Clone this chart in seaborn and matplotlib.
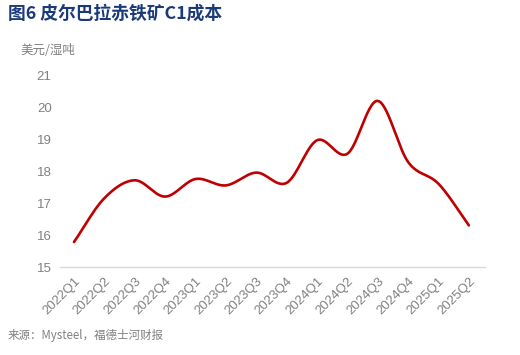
import numpy as np
import pandas as pd
import matplotlib
matplotlib.use("Agg")
import matplotlib.pyplot as plt
import seaborn as sns

quarters = ["2022Q1", "2022Q2", "2022Q3", "2022Q4", "2023Q1", "2023Q2", "2023Q3",
            "2023Q4", "2024Q1", "2024Q2", "2024Q3", "2024Q4", "2025Q1", "2025Q2"]
c1_cost = [15.78, 17.15, 17.71, 17.20, 17.75, 17.55, 17.95,
           17.63, 18.96, 18.54, 20.19, 18.28, 17.60, 16.30]
y_ticks = [15, 16, 17, 18, 19, 20, 21]

title = "图6 皮尔巴拉赤铁矿C1成本"
unit = "美元/湿吨"
source = "来源：Mysteel，福德士河财报"

sns.set_theme(style="white")
plt.rcParams['font.family'] = ['Liberation Sans', 'Noto Sans CJK SC', 'DejaVu Sans']


def catmull_rom(xs, ys, n=30):
    xs = np.asarray(xs, float)
    ys = np.asarray(ys, float)
    px = np.concatenate([[2 * xs[0] - xs[1]], xs, [2 * xs[-1] - xs[-2]]])
    py = np.concatenate([[2 * ys[0] - ys[1]], ys, [2 * ys[-1] - ys[-2]]])
    ox, oy = [], []
    t = np.linspace(0, 1, n, endpoint=False)
    for i in range(1, len(px) - 2):
        for P, out in ((px, ox), (py, oy)):
            p0, p1, p2, p3 = P[i - 1], P[i], P[i + 1], P[i + 2]
            out.extend(0.5 * ((2 * p1) + (-p0 + p2) * t + (2 * p0 - 5 * p1 + 4 * p2 - p3) * t ** 2
                              + (-p0 + 3 * p1 - 3 * p2 + p3) * t ** 3))
    ox.append(xs[-1]); oy.append(ys[-1])
    return np.array(ox), np.array(oy)


xpos = np.arange(len(quarters))
sx, sy = catmull_rom(xpos, c1_cost)
df = pd.DataFrame({"x": sx, "y": sy})

fig = plt.figure(figsize=(5.2, 3.55), dpi=100)
ax = fig.add_axes([60 / 520, 1 - 267 / 355, 425 / 520, 192 / 355])
sns.lineplot(data=df, x="x", y="y", ax=ax, color="#C00000", linewidth=1.9, sort=False)

ax.set_xlim(-0.46, 13.53)
ax.set_ylim(15, 21)
ax.set_yticks(y_ticks)
ax.set_yticklabels([str(v) for v in y_ticks], color="#808080", fontsize=9.5)
ax.set_xticks(xpos)
ax.set_xticklabels(quarters, rotation=45, ha="right", rotation_mode="anchor",
                   color="#808080", fontsize=9.5)
ax.tick_params(axis="both", length=0, pad=6)
ax.set_xlabel("")
ax.set_ylabel("")
for s in ["top", "right", "left"]:
    ax.spines[s].set_visible(False)
ax.spines["bottom"].set_color("#D9D9D9")
ax.spines["bottom"].set_linewidth(1)
ax.grid(False)

fig.text(8 / 520, 1 - 14 / 355, title, fontsize=12.8, fontweight="bold", color="#1B3A7A",
         va="center", ha="left", family=['Noto Sans CJK SC', 'DejaVu Sans'])
fig.text(20 / 520, 1 - 50 / 355, unit, fontsize=9, color="#808080",
         va="center", ha="left", family=['Noto Sans CJK SC', 'DejaVu Sans'])
fig.text(8 / 520, 1 - 335 / 355, source, fontsize=8.3, color="#808080",
         va="center", ha="left", family=['Noto Sans CJK SC', 'DejaVu Sans'])

fig.savefig("out.png", dpi=100, facecolor="white")
